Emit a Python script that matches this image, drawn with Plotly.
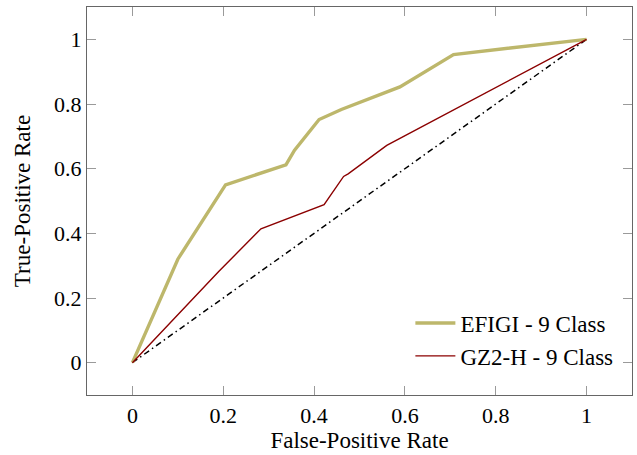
import plotly.graph_objects as go

# Data
efigi_fpr = [0.0, 0.10, 0.205, 0.338, 0.357, 0.411, 0.46, 0.589, 0.707, 1.0]
efigi_tpr = [0.0, 0.32, 0.550, 0.612, 0.657, 0.752, 0.783, 0.853, 0.953, 1.0]

gz2_fpr = [0.0, 0.19, 0.283, 0.422, 0.465, 0.475, 0.56, 1.0]
gz2_tpr = [0.0, 0.282, 0.414, 0.489, 0.576, 0.584, 0.672, 1.0]

diag_x = [0.0, 1.0]
diag_y = [0.0, 1.0]

tick_vals = [0, 0.2, 0.4, 0.6, 0.8, 1]
tick_text = ["0", "0.2", "0.4", "0.6", "0.8", "1"]

SERIF = "Liberation Serif"

fig = go.Figure()
fig.add_trace(go.Scatter(x=diag_x, y=diag_y, mode="lines", showlegend=False,
                         line=dict(color="black", width=1.5, dash="6px,3.5px,1.5px,3.5px")))
fig.add_trace(go.Scatter(x=efigi_fpr, y=efigi_tpr, mode="lines", name="EFIGI - 9 Class",
                         line=dict(color="#BDB76B", width=3.4)))
fig.add_trace(go.Scatter(x=gz2_fpr, y=gz2_tpr, mode="lines", name="GZ2-H - 9 Class",
                         line=dict(color="#8B0000", width=1.4)))

axis_common = dict(
    showgrid=False, zeroline=False, automargin=False,
    showline=True, linecolor="#666666", linewidth=1.3, mirror="ticks",
    ticks="inside", ticklen=9, tickcolor="#9a9a9a", tickwidth=1,
    tickvals=tick_vals, ticktext=tick_text,
    tickfont=dict(family=SERIF, size=22, color="black"),
    range=[-0.1, 1.1],
)

fig.update_layout(
    width=637, height=455,
    margin=dict(l=87, r=5, t=7, b=60),
    paper_bgcolor="white", plot_bgcolor="white",
    font=dict(family=SERIF, color="black"),
    xaxis=dict(**axis_common,
               title=dict(text="False-Positive Rate", font=dict(family=SERIF, size=23), standoff=5)),
    yaxis=dict(**axis_common,
               title=dict(text="True-Positive Rate", font=dict(family=SERIF, size=23), standoff=16)),
    legend=dict(x=0.975, y=0.045, xanchor="right", yanchor="bottom",
                bgcolor="rgba(0,0,0,0)", borderwidth=0,
                font=dict(family=SERIF, size=23), itemwidth=40,
                tracegroupgap=0),
)

fig.write_html("out.html", config={"displayModeBar": False},
               post_script="document.body.style.margin='0px';document.body.style.padding='0px';")
